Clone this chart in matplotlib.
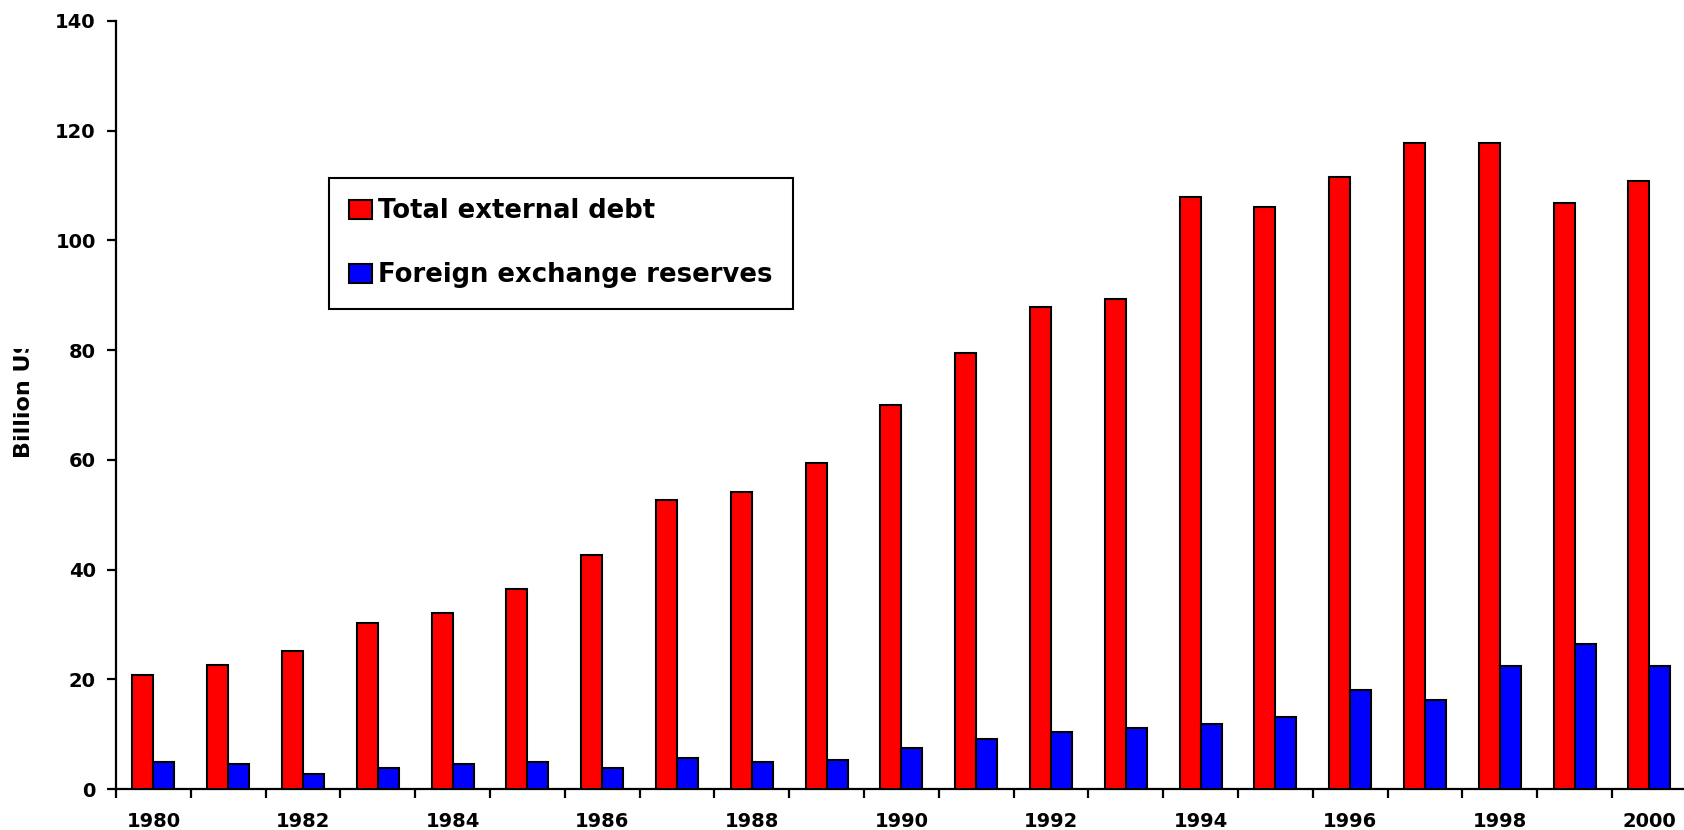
import matplotlib
matplotlib.use("Agg")
import matplotlib.pyplot as plt
import numpy as np
from matplotlib.transforms import Bbox

# Annual figures, billion US$
years = list(range(1980, 2001))
total_external_debt = [20.8, 22.6, 25.2, 30.3, 32.1, 36.5, 42.7, 52.6, 54.1, 59.5,
                       70.0, 79.5, 87.9, 89.4, 108.0, 106.1, 111.6, 117.8, 117.8, 106.9, 110.9]
foreign_exchange_reserves = [4.9, 4.5, 2.7, 3.8, 4.5, 4.9, 3.8, 5.6, 4.9, 5.2,
                             7.4, 9.2, 10.3, 11.1, 11.8, 13.2, 18.0, 16.2, 22.4, 26.4, 22.4]
series_labels = ["Total external debt", "Foreign exchange reserves"]
y_ticks = [0, 20, 40, 60, 80, 100, 120, 140]

plt.rcParams["font.family"] = ["DejaVu Sans"]
plt.rcParams["font.weight"] = "bold"

W, H = 1684, 830
fig = plt.figure(figsize=(W / 100, H / 100), dpi=100)
fig.patch.set_facecolor("white")

left_px, bottom_px, top_px = 116, 789, 21
cat_w = 74.8
ax = fig.add_axes([left_px / W, (H - bottom_px) / H,
                   len(years) * cat_w / W, (bottom_px - top_px) / H])

x = np.arange(len(years))
bw = 0.28
b1 = ax.bar(x - bw / 2, total_external_debt, bw, color="#FF0000",
            edgecolor="black", linewidth=1.5, label=series_labels[0], zorder=3)
b2 = ax.bar(x + bw / 2, foreign_exchange_reserves, bw, color="#0000FF",
            edgecolor="black", linewidth=1.5, label=series_labels[1], zorder=3)

ax.set_xlim(-0.5, len(years) - 0.5)
ax.set_ylim(0, 140)
ax.set_yticks(y_ticks)
ax.set_yticklabels([str(v) for v in y_ticks], fontsize=14, fontweight="bold")

# year labels every other year, boundary ticks between categories
label_idx = [i for i, yr in enumerate(years) if yr % 2 == 0]
ax.set_xticks(label_idx)
ax.set_xticklabels([str(years[i]) for i in label_idx], fontsize=14, fontweight="bold")
ax.set_xticks(np.arange(-0.5, len(years)), minor=True)
ax.tick_params(axis="x", which="major", length=0, pad=16.5)
ax.tick_params(axis="x", which="minor", length=6.5, width=1.6, direction="out")
ax.tick_params(axis="y", length=6.5, width=1.6, direction="out", pad=8)

for s in ["top", "right"]:
    ax.spines[s].set_visible(False)
for s in ["left", "bottom"]:
    ax.spines[s].set_linewidth(1.6)

leg = ax.legend(handles=[b1, b2], labels=series_labels,
                loc="upper left", bbox_to_anchor=(329 / W, 1 - 178 / H),
                bbox_transform=fig.transFigure, borderaxespad=0,
                fontsize=18.6, handlelength=0.88, handleheight=0.74,
                handletextpad=0.25, labelspacing=1.48, borderpad=0.78,
                fancybox=False, framealpha=1, edgecolor="black")
leg.get_frame().set_linewidth(1.5)
for t in leg.get_texts():
    t.set_fontweight("bold")

# axis title, cut off by its text box
yl = fig.text(24 / W, (H - 458) / H, "Billion US$", rotation=90,
              ha="center", va="bottom", fontsize=16, fontweight="bold")
yl.set_clip_box(Bbox([[0, 0], [60, H - 349]]))
yl.set_clip_on(True)

fig.savefig("out.png", dpi=100, facecolor="white")
